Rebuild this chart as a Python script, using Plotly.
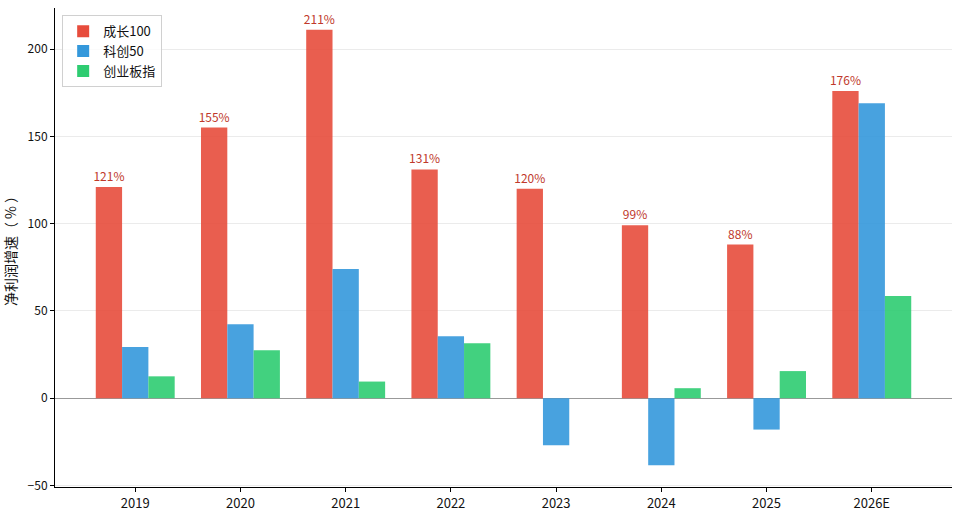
import plotly.graph_objects as go

years = ["2019", "2020", "2021", "2022", "2023", "2024", "2025", "2026E"]
growth100 = [121, 155, 211, 131, 120, 99, 88, 176]
kc50 = [29.3, 42.3, 74.0, 35.5, -27.0, -38.5, -18.0, 169.0]
cyb = [12.5, 27.5, 9.5, 31.5, 0.0, 5.7, 15.5, 58.5]
labels = [f"{v}%" for v in growth100]

FONT = "Noto Sans CJK SC"

fig = go.Figure()
fig.add_trace(go.Bar(x=years, y=growth100, name="成长100",
                     marker=dict(color="#e74c3c", opacity=0.9, line=dict(width=0)),
                     text=labels, textposition="outside", cliponaxis=False,
                     constraintext="none",
                     textfont=dict(color="#c0392b", size=12, family=FONT)))
fig.add_trace(go.Bar(x=years, y=kc50, name="科创50",
                     marker=dict(color="#3498db", opacity=0.9, line=dict(width=0))))
fig.add_trace(go.Bar(x=years, y=cyb, name="创业板指",
                     marker=dict(color="#2ecc71", opacity=0.9, line=dict(width=0))))

fig.update_layout(
    width=960, height=517,
    margin=dict(l=55, r=8, t=8, b=30),
    paper_bgcolor="white", plot_bgcolor="white",
    barmode="group", bargap=0.25, bargroupgap=0,
    font=dict(family=FONT, size=13, color="#222"),
    legend=dict(x=0.008, y=0.985, xanchor="left", yanchor="top",
                bordercolor="#d0d0d0", borderwidth=1, bgcolor="rgba(255,255,255,0.8)",
                font=dict(size=13, family=FONT, color="#111"), itemwidth=30, tracegroupgap=0),
    showlegend=True,
)
fig.update_xaxes(type="category", range=[-0.7625, 7.7625], automargin=False,
                 showline=True, linecolor="black", linewidth=1,
                 ticks="outside", ticklen=4, tickcolor="black",
                 showgrid=False, tickfont=dict(size=13, color="#111"))
fig.update_yaxes(range=[-50.9, 223.5], tickvals=[-50, 0, 50, 100, 150, 200], automargin=False,
                 showline=True, linecolor="black", linewidth=1,
                 ticks="outside", ticklen=4, tickcolor="black",
                 showgrid=True, gridcolor="rgba(0,0,0,0.08)", gridwidth=1,
                 zeroline=True, zerolinecolor="#999999", zerolinewidth=1,
                 title=dict(text="净利润增速（ % ）", font=dict(size=14, color="#111"), standoff=8),
                 tickfont=dict(size=12, color="#111"))

fig.write_html("out.html")
